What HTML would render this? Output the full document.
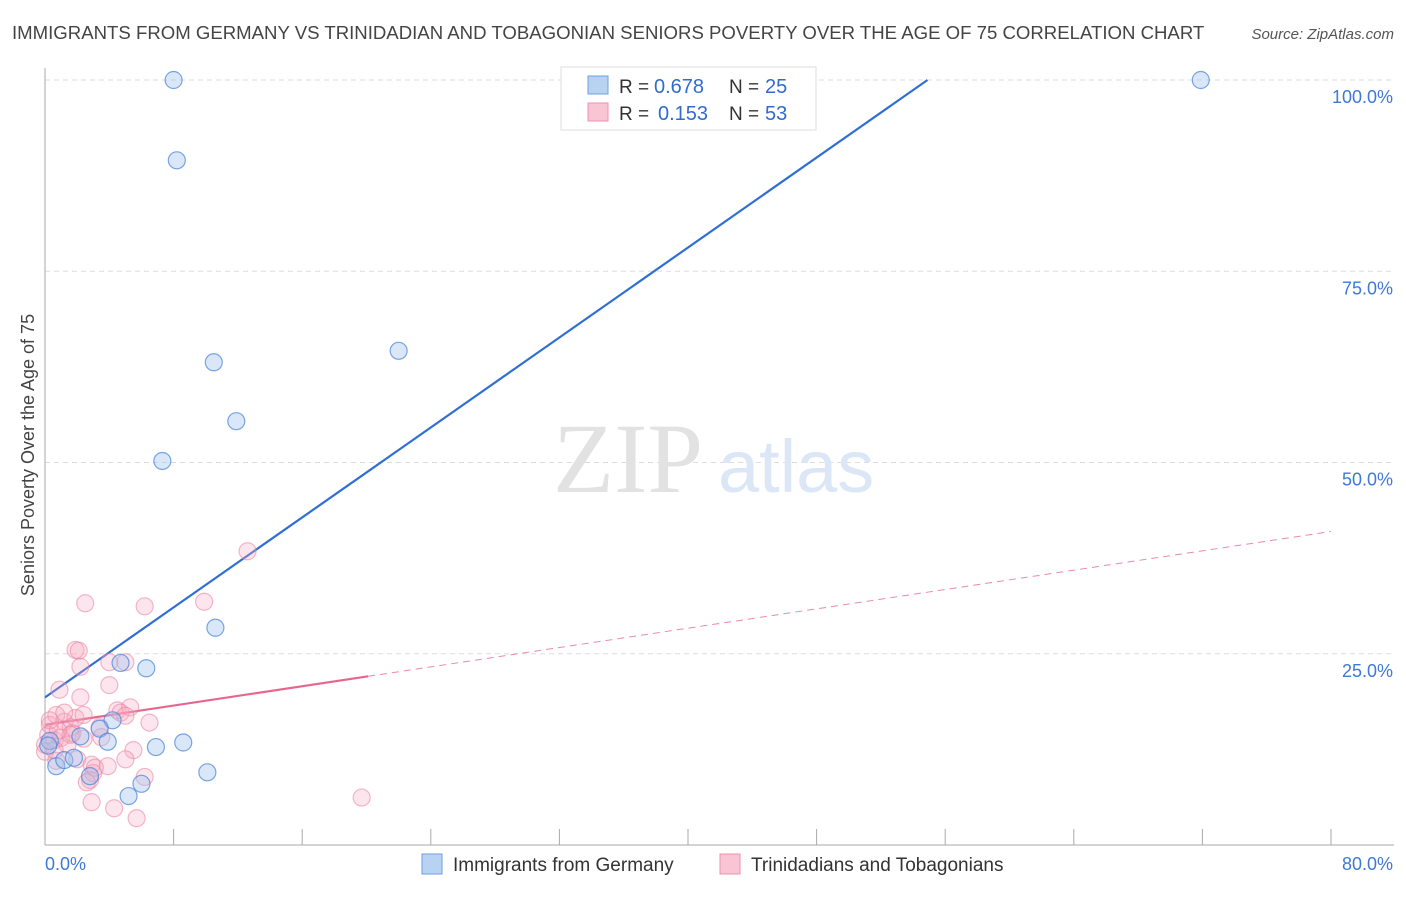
<!DOCTYPE html>
<html><head><meta charset="utf-8"><style>
body{margin:0;background:#fff;font-family:"Liberation Sans",sans-serif;}
svg text{font-family:"Liberation Sans",sans-serif;}
</style></head><body>
<svg width="1406" height="892" viewBox="0 0 1406 892">
<text x="12" y="39" font-size="18.6" fill="#444">IMMIGRANTS FROM GERMANY VS TRINIDADIAN AND TOBAGONIAN SENIORS POVERTY OVER THE AGE OF 75 CORRELATION CHART</text>
<text x="1394" y="39" font-size="15" fill="#555" text-anchor="end" font-style="italic">Source: ZipAtlas.com</text>
<g id="grid"></g>
<g id="axes"></g>
<text x="553" y="492" font-size="100" fill="#e2e2e2" style="font-family:'Liberation Serif',serif">ZIP</text>
<text x="718" y="492" font-size="74" fill="#dbe7f6">atlas</text>
<g id="lines"></g>
<g id="points"></g>
<text transform="translate(34,455) rotate(-90)" font-size="18" fill="#444" text-anchor="middle">Seniors Poverty Over the Age of 75</text>
<g>
<rect x="561" y="67" width="255" height="63" fill="#fff" stroke="#ddd"/>
<rect x="588" y="76" width="20" height="18" fill="#b8d2f2" stroke="#6f9fe0"/>
<rect x="588" y="103" width="20" height="18" fill="#f9c4d3" stroke="#ef90ad"/>
<text x="619" y="93" font-size="19" fill="#333">R =</text>
<text x="654" y="93" font-size="20" fill="#2f6ccc">0.678</text>
<text x="729" y="93" font-size="19" fill="#333">N =</text>
<text x="765" y="93" font-size="20" fill="#2f6ccc">25</text>
<text x="619" y="120" font-size="19" fill="#333">R =</text>
<text x="658" y="120" font-size="20" fill="#2f6ccc">0.153</text>
<text x="729" y="120" font-size="19" fill="#333">N =</text>
<text x="765" y="120" font-size="20" fill="#2f6ccc">53</text>
</g>
<g>
<rect x="422" y="854" width="20" height="20" fill="#b8d2f2" stroke="#6f9fe0"/>
<text x="453" y="871" font-size="19" fill="#333">Immigrants from Germany</text>
<rect x="720" y="854" width="20" height="20" fill="#f9c4d3" stroke="#ef90ad"/>
<text x="751" y="871" font-size="19" fill="#333">Trinidadians and Tobagonians</text>
</g>
</svg>
<script>
const blueX=[8.0,8.2,10.5,11.9,7.3,22.0,71.9,10.6,4.7,6.3,4.2,3.4,3.9,2.2,6.9,8.6,10.1,0.7,1.2,1.8,2.8,6.0,5.2,0.3,0.2];
const blueY=[100,89.5,63.1,55.4,50.2,64.6,100,28.4,23.8,23.1,16.3,15.2,13.5,14.2,12.8,13.4,9.5,10.3,11.1,11.4,9.0,8.0,6.4,13.6,13.0];
const pinkX=[2.5,6.2,9.9,12.6,1.9,2.1,2.2,4.0,5.0,0.9,2.2,4.0,0.3,0.7,1.2,1.6,1.9,2.4,0.2,0.6,1.0,1.4,1.7,4.5,4.7,5.3,5.0,6.5,2.4,3.4,3.5,5.5,0.7,2.0,2.9,2.8,3.0,2.6,3.9,5.0,6.2,2.9,4.3,5.7,19.7,0.0,0.3,1.2,0.0,0.6,1.6,3.1,0.8];
const pinkY=[31.6,31.2,31.8,38.4,25.5,25.4,23.3,23.9,23.9,20.3,19.3,20.9,15.7,17.0,16.1,15.4,16.6,17.0,14.4,13.7,14.0,13.1,14.6,17.6,17.3,18.0,16.9,16.0,13.9,15.4,14.1,12.4,11.0,11.2,10.5,8.5,9.4,8.2,10.3,11.2,8.9,5.6,4.8,3.5,6.2,13.1,16.3,17.3,12.2,12.4,14.4,10.1,15.0];
const blueLine=[19.3,1.47], pinkLine=[15.7,0.316], pinkSolidEnd=20.1;
const xTicks=[0,8,16,24,32,40,48,56,64,72,80];
const yTicks=[25,50,75,100];
const X=v=>45+v/80*1286, Y=v=>845-v*7.65;
const NS="http://www.w3.org/2000/svg";
function mk(t,a,p){const e=document.createElementNS(NS,t);for(const k in a)e.setAttribute(k,a[k]);document.getElementById(p).appendChild(e);return e;}
yTicks.forEach(t=>{
 const l=mk('line',{x1:45,x2:1394,y1:Y(t),y2:Y(t),stroke:'#ddd','stroke-dasharray':'5,4'},'grid');
 
 
 const tx=mk('text',{x:1393,y:Y(t)+23,'font-size':18,fill:'#3f78d6','text-anchor':'end'},'grid');
 tx.textContent=t.toFixed(1)+'%';
 
 
});
const ax=mk('line',{x1:45,x2:45,y1:68,y2:845,stroke:'#aaa'},'axes');


const bx=mk('line',{x1:45,x2:1394,y1:845,y2:845,stroke:'#aaa'},'axes');


xTicks.forEach(t=>{
 const l=mk('line',{x1:X(t),x2:X(t),y1:829,y2:845,stroke:'#aaa'},'axes');
 
 
});
[[0,'start'],[80,'end']].forEach(([t,a])=>{
 const tx=mk('text',{x:t==0?45:1393,y:870,'font-size':18,fill:'#3f78d6','text-anchor':a},'axes');
 tx.textContent=t.toFixed(1)+'%';
 
 
});
const bEnd=(100-blueLine[0])/blueLine[1];
const bl=mk('line',{x1:X(0),y1:Y(blueLine[0]),x2:X(bEnd),y2:Y(100),stroke:'#2f6fd4','stroke-width':2.2},'lines');


const ps=mk('line',{x1:X(0),y1:Y(pinkLine[0]),x2:X(pinkSolidEnd),y2:Y(pinkLine[0]+pinkLine[1]*pinkSolidEnd),stroke:'#e8668e','stroke-width':2.2},'lines');


const pd=mk('line',{x1:X(pinkSolidEnd),y1:Y(pinkLine[0]+pinkLine[1]*pinkSolidEnd),x2:X(80),y2:Y(pinkLine[0]+pinkLine[1]*80),stroke:'#eb8aa8','stroke-width':1,'stroke-dasharray':'7,5'},'lines');


pinkX.forEach((x,i)=>{
 const c=mk('circle',{cx:X(x),cy:Y(pinkY[i]),r:8.5,fill:'rgba(246,170,192,0.3)',stroke:'rgba(236,128,160,0.55)','stroke-width':1.2},'points');
 
 
});
blueX.forEach((x,i)=>{
 const c=mk('circle',{cx:X(x),cy:Y(blueY[i]),r:8.5,fill:'rgba(160,195,240,0.4)',stroke:'rgba(70,130,215,0.7)','stroke-width':1.2},'points');
 
 
});
</script>
</body></html>
